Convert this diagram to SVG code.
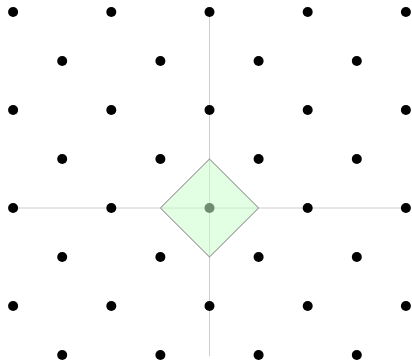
<svg xmlns="http://www.w3.org/2000/svg" width="412" height="361" viewBox="0 0 412 361">
<style>
.ax{stroke:#cccccc;stroke-width:1;fill:none}
.dot{fill:#000}
.cell{fill:#ccffcc;fill-opacity:0.55;stroke:#777777;stroke-width:1}
</style>
<rect width="412" height="361" fill="#ffffff"/>
<g id="axes">
<line class="ax" x1="13" y1="208" x2="406" y2="208"/>
<line class="ax" x1="209.5" y1="12" x2="209.5" y2="356"/>
</g>
<g id="lattice">
<circle class="dot" cx="13.1" cy="12" r="5"/><circle class="dot" cx="111.3" cy="12" r="5"/><circle class="dot" cx="209.5" cy="12" r="5"/><circle class="dot" cx="307.7" cy="12" r="5"/><circle class="dot" cx="405.9" cy="12" r="5"/>
<circle class="dot" cx="62.2" cy="61" r="5"/><circle class="dot" cx="160.4" cy="61" r="5"/><circle class="dot" cx="258.6" cy="61" r="5"/><circle class="dot" cx="356.8" cy="61" r="5"/>
<circle class="dot" cx="13.1" cy="110" r="5"/><circle class="dot" cx="111.3" cy="110" r="5"/><circle class="dot" cx="209.5" cy="110" r="5"/><circle class="dot" cx="307.7" cy="110" r="5"/><circle class="dot" cx="405.9" cy="110" r="5"/>
<circle class="dot" cx="62.2" cy="159" r="5"/><circle class="dot" cx="160.4" cy="159" r="5"/><circle class="dot" cx="258.6" cy="159" r="5"/><circle class="dot" cx="356.8" cy="159" r="5"/>
<circle class="dot" cx="13.1" cy="208" r="5"/><circle class="dot" cx="111.3" cy="208" r="5"/><circle class="dot" cx="209.5" cy="208" r="5"/><circle class="dot" cx="307.7" cy="208" r="5"/><circle class="dot" cx="405.9" cy="208" r="5"/>
<circle class="dot" cx="62.2" cy="257" r="5"/><circle class="dot" cx="160.4" cy="257" r="5"/><circle class="dot" cx="258.6" cy="257" r="5"/><circle class="dot" cx="356.8" cy="257" r="5"/>
<circle class="dot" cx="13.1" cy="306" r="5"/><circle class="dot" cx="111.3" cy="306" r="5"/><circle class="dot" cx="209.5" cy="306" r="5"/><circle class="dot" cx="307.7" cy="306" r="5"/><circle class="dot" cx="405.9" cy="306" r="5"/>
<circle class="dot" cx="62.2" cy="355" r="5"/><circle class="dot" cx="160.4" cy="355" r="5"/><circle class="dot" cx="258.6" cy="355" r="5"/><circle class="dot" cx="356.8" cy="355" r="5"/>
</g>
<g id="cell">
<polygon class="cell" points="209.5,159 258.6,208 209.5,257 160.4,208"/>
</g>
</svg>
